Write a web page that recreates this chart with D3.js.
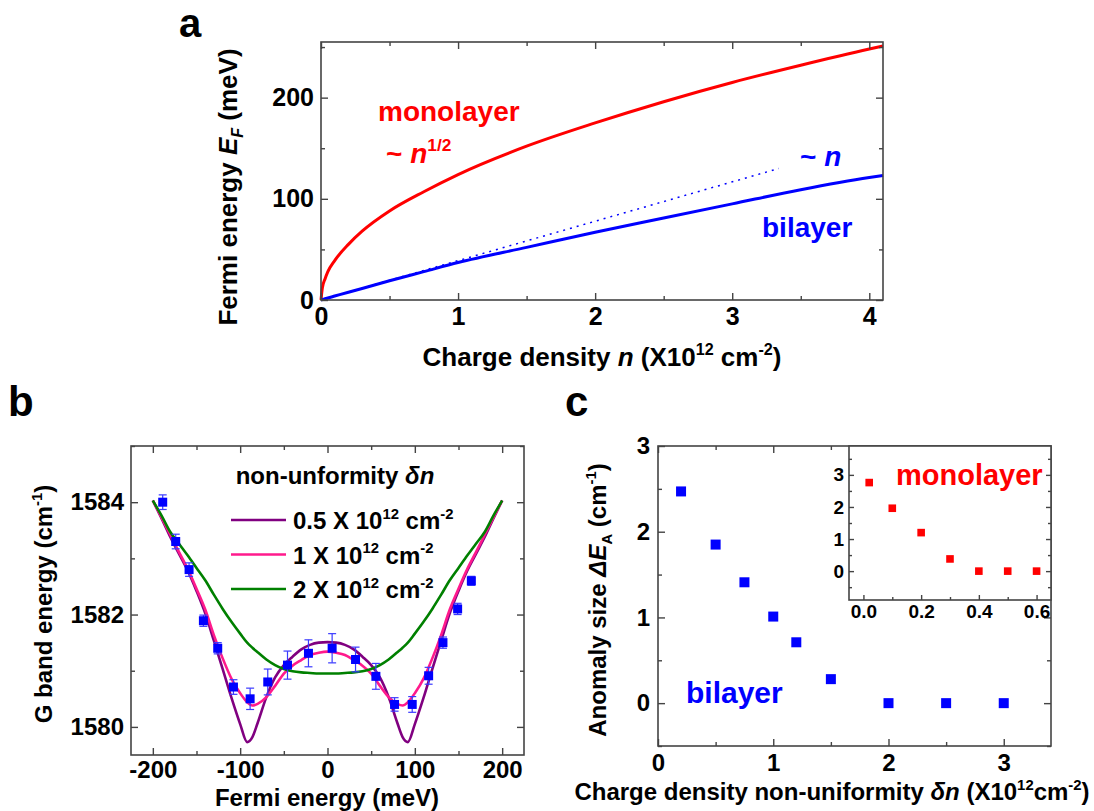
<!DOCTYPE html>
<html>
<head>
<meta charset="utf-8">
<script src="https://cdn.jsdelivr.net/npm/d3@7"></script>
<style>
  body { margin: 0; background: #fff; }
  svg { display: block; }
</style>
</head>
<body>
<svg id="fig" width="1094" height="811"></svg>
<script>
// ---- panel a : Fermi energy vs charge density
const densityA = [0, 0.01, 0.03, 0.05, 0.1, 0.2, 0.3, 0.5, 0.75, 1, 1.5, 2, 2.5, 3, 3.5, 4, 4.1];
const monolayerEF = [0, 12, 21, 28, 39, 55, 68, 88, 107, 124, 152, 175, 196, 215, 232, 248, 251];
const bilayerEF = [0, 0.4, 1.2, 2, 3.9, 7.7, 11.4, 19, 28, 37, 52, 67, 81, 95, 109, 121, 123];
const linearN = [0, 3.34];
const linearEF = [0, 130];

// ---- panel b : G band energy vs Fermi energy
const gFermi = [-188.7, -173.8, -158.5, -142.1, -125.7, -107.7, -88.6, -68.4, -45.8, -21.8, 5.3, 32.1, 55.4, 76.8, 97.0, 115.8, 132.2, 149.0, 164.7];
const gEnergy = [1584.00, 1583.30, 1582.80, 1581.89, 1581.40, 1580.71, 1580.50, 1580.80, 1581.10, 1581.31, 1581.40, 1581.20, 1580.90, 1580.40, 1580.40, 1580.91, 1581.50, 1582.10, 1582.60];
const gError = [0.13, 0.13, 0.12, 0.10, 0.10, 0.13, 0.19, 0.23, 0.25, 0.24, 0.26, 0.22, 0.23, 0.12, 0.14, 0.15, 0.10, 0.10, 0.08];

const fitFermi = [-200, -190, -180, -170, -160, -150, -140, -130, -120, -110, -100, -92, -86, -80, -70, -60, -50, -40, -30, -20, -10, 0,
  10, 20, 30, 40, 50, 60, 70, 80, 86, 92, 100, 110, 120, 130, 140, 150, 160, 170, 180, 190, 200];
const fit05 = [1584.03, 1583.71, 1583.38, 1583.08, 1582.78, 1582.42, 1582.02, 1581.53, 1581.03, 1580.52, 1580.05, 1579.73, 1579.82, 1580.07, 1580.53, 1580.88, 1581.10, 1581.25, 1581.38, 1581.46, 1581.50, 1581.51,
  1581.50, 1581.46, 1581.38, 1581.25, 1581.10, 1580.88, 1580.53, 1580.07, 1579.82, 1579.73, 1580.05, 1580.52, 1581.03, 1581.53, 1582.02, 1582.42, 1582.78, 1583.08, 1583.38, 1583.71, 1584.03];
const fit1 = [1584.03, 1583.73, 1583.42, 1583.11, 1582.81, 1582.46, 1582.09, 1581.63, 1581.22, 1580.86, 1580.60, 1580.44, 1580.38, 1580.41, 1580.53, 1580.73, 1580.95, 1581.09, 1581.19, 1581.28, 1581.32, 1581.34,
  1581.32, 1581.28, 1581.19, 1581.09, 1580.95, 1580.73, 1580.53, 1580.41, 1580.38, 1580.44, 1580.60, 1580.86, 1581.22, 1581.63, 1582.09, 1582.46, 1582.81, 1583.11, 1583.42, 1583.73, 1584.03];
const fit2 = [1584.03, 1583.76, 1583.47, 1583.26, 1583.05, 1582.83, 1582.61, 1582.35, 1582.10, 1581.87, 1581.66, 1581.50, 1581.41, 1581.33, 1581.20, 1581.10, 1581.03, 1580.99, 1580.97, 1580.96, 1580.95, 1580.95,
  1580.95, 1580.96, 1580.97, 1580.99, 1581.03, 1581.10, 1581.20, 1581.33, 1581.41, 1581.50, 1581.66, 1581.87, 1582.10, 1582.35, 1582.61, 1582.83, 1583.05, 1583.26, 1583.47, 1583.76, 1584.03];
const fitLabels = ["0.5", "1", "2"];

// ---- panel c : anomaly size vs non-uniformity
const dnBilayer = [0.2, 0.5, 0.75, 1.0, 1.2, 1.5, 2.0, 2.5, 3.0];
const dEBilayer = [2.47, 1.85, 1.41, 1.01, 0.71, 0.28, 0, 0, 0];
const dnMono = [0.02, 0.1, 0.2, 0.3, 0.4, 0.5, 0.6];
const dEMono = [2.76, 1.96, 1.2, 0.38, 0, 0, 0];

const FONT = '"Liberation Sans", Arial, Helvetica, sans-serif';
const svg = d3.select("#fig").attr("font-family", FONT);

// bold text made of pieces, some italic / super / subscript
function label(g, x, y, parts, size, o = {}) {
  const t = g.append("text")
    .attr("x", x).attr("y", y)
    .attr("font-size", size).attr("font-weight", "bold")
    .attr("fill", o.fill || "#000")
    .attr("text-anchor", o.anchor || "start");
  if (o.rotate) t.attr("transform", `rotate(-90,${x},${y})`);
  let shift = 0;
  (typeof parts === "string" ? [{ t: parts }] : parts).forEach((p) => {
    const s = p.sup ? -0.42 * size : p.sub ? 0.24 * size : 0;
    const ts = t.append("tspan").text(p.t).attr("dy", s - shift);
    if (p.sup || p.sub) ts.attr("font-size", size * 0.62);
    if (p.i) ts.attr("font-style", "italic");
    shift = s;
  });
  return t;
}

// boxed frame, ticks pointing in on all sides
function frame(g, x, y, o) {
  const [x0, x1] = x.range();
  const [yb, yt] = y.range();
  const M = o.major || 7, m = o.minor || 4;
  const put = (axis, tx, ty) => {
    const a = g.append("g").attr("transform", `translate(${tx},${ty})`).call(axis);
    a.attr("font-family", null).attr("font-size", null);
    a.select(".domain").remove();
    a.selectAll("line").attr("stroke", "#444").attr("stroke-width", 1.4);
    a.selectAll("text").attr("font-weight", "bold").attr("font-size", o.fs).attr("fill", "#000");
  };
  const fx = o.xFmt || ((d) => String(d));
  const fy = o.yFmt || ((d) => String(d));
  put(d3.axisBottom(x).tickValues(o.xMajor).tickSize(-M).tickPadding(o.xPad).tickFormat(fx), 0, yb);
  put(d3.axisBottom(x).tickValues(o.xMinor).tickSize(-m).tickFormat(""), 0, yb);
  if (!o.noTop) {
    put(d3.axisTop(x).tickValues(o.xMajor).tickSize(-M).tickFormat(""), 0, yt);
    put(d3.axisTop(x).tickValues(o.xMinor).tickSize(-m).tickFormat(""), 0, yt);
  }
  put(d3.axisLeft(y).tickValues(o.yMajor).tickSize(-M).tickPadding(o.yPad).tickFormat(fy), x0, 0);
  put(d3.axisLeft(y).tickValues(o.yMinor).tickSize(-m).tickFormat(""), x0, 0);
  put(d3.axisRight(y).tickValues(o.yMajor).tickSize(-M).tickFormat(""), x1, 0);
  put(d3.axisRight(y).tickValues(o.yMinor).tickSize(-m).tickFormat(""), x1, 0);
  g.append("rect")
    .attr("x", x0).attr("y", yt).attr("width", x1 - x0).attr("height", yb - yt)
    .attr("fill", "none").attr("stroke", "#444").attr("stroke-width", 1.6);
}

// ================= panel a
const gA = svg.append("g");
const xA = d3.scaleLinear().domain([0, 4.1]).range([321, 883]);
const yA = d3.scaleLinear().domain([0, 255]).range([300, 42]);

const lineA = (ys) => d3.line().x((d, i) => xA(densityA[i])).y((d, i) => yA(ys[i])).curve(d3.curveMonotoneX)(ys);
gA.append("path").attr("d", lineA(monolayerEF)).attr("fill", "none").attr("stroke", "#ff0000").attr("stroke-width", 3);
gA.append("path").attr("d", lineA(bilayerEF)).attr("fill", "none").attr("stroke", "#0000ff").attr("stroke-width", 3);
gA.append("path")
  .attr("d", d3.line().x((d, i) => xA(linearN[i])).y((d, i) => yA(linearEF[i]))(linearEF))
  .attr("fill", "none").attr("stroke", "#0000ff").attr("stroke-width", 1.5).attr("stroke-dasharray", "2,5");

frame(gA, xA, yA, {
  xMajor: [0, 1, 2, 3, 4], xMinor: [0.5, 1.5, 2.5, 3.5],
  yMajor: [0, 100, 200], yMinor: [50, 150, 250],
  fs: 25, xPad: 7, yPad: 7
});

label(gA, 179, 37, "a", 40);
label(gA, 602, 366, [{ t: "Charge density " }, { t: "n", i: true }, { t: " (X10" }, { t: "12", sup: true }, { t: " cm" }, { t: "-2", sup: true }, { t: ")" }], 26, { anchor: "middle" });
label(gA, 237, 187, [{ t: "Fermi energy " }, { t: "E", i: true }, { t: "F", i: true, sub: true }, { t: " (meV)" }], 26, { anchor: "middle", rotate: true });
label(gA, 378, 121, "monolayer", 28, { fill: "#ff0000" });
label(gA, 386, 163, [{ t: "~ " }, { t: "n", i: true }, { t: "1/2", sup: true }], 28, { fill: "#ff0000" });
label(gA, 800, 166, [{ t: "~ " }, { t: "n", i: true }], 28, { fill: "#0000ff" });
label(gA, 762, 237, "bilayer", 28, { fill: "#0000ff" });

// ================= panel b
const gB = svg.append("g");
const xB = d3.scaleLinear().domain([-225, 225]).range([131, 524]);
const yB = d3.scaleLinear().domain([1579.5, 1585]).range([755, 446]);
const fitColors = ["#800080", "#ff1a8c", "#008000"];
const fits = [fit05, fit1, fit2];

fits.forEach((ys, k) => {
  gB.append("path")
    .attr("d", d3.line().x((d, i) => xB(fitFermi[i])).y((d) => yB(d)).curve(d3.curveMonotoneX)(ys))
    .attr("fill", "none").attr("stroke", fitColors[k]).attr("stroke-width", 2.6);
});

const err = gB.append("g").attr("stroke", "#3a3aff").attr("stroke-width", 1.2);
gFermi.forEach((e, i) => {
  const cx = xB(e), lo = yB(gEnergy[i] - gError[i]), hi = yB(gEnergy[i] + gError[i]);
  err.append("line").attr("x1", cx).attr("x2", cx).attr("y1", lo).attr("y2", hi);
  err.append("line").attr("x1", cx - 4).attr("x2", cx + 4).attr("y1", lo).attr("y2", lo);
  err.append("line").attr("x1", cx - 4).attr("x2", cx + 4).attr("y1", hi).attr("y2", hi);
});
gB.selectAll("rect.pt").data(gFermi).enter().append("rect")
  .attr("class", "pt")
  .attr("x", (d) => xB(d) - 4.5).attr("y", (d, i) => yB(gEnergy[i]) - 4.5)
  .attr("width", 9).attr("height", 9).attr("fill", "#0000ff");

frame(gB, xB, yB, {
  xMajor: [-200, -100, 0, 100, 200], xMinor: [-150, -50, 50, 150],
  yMajor: [1580, 1582, 1584], yMinor: [1581, 1583, 1585],
  fs: 24, xPad: 6, yPad: 7
});

// legend
label(gB, 335, 484, [{ t: "non-unformity " }, { t: "δn", i: true }], 24, { anchor: "middle" });
fitLabels.forEach((v, k) => {
  const ly = 520 + k * 34.5;
  gB.append("line").attr("x1", 231).attr("x2", 286).attr("y1", ly).attr("y2", ly)
    .attr("stroke", fitColors[k]).attr("stroke-width", 2.6);
  label(gB, 293, ly + 9, [{ t: v + " X 10" }, { t: "12", sup: true }, { t: " cm" }, { t: "-2", sup: true }], 24);
});

label(gB, 8, 416, "b", 42);
label(gB, 327, 806, "Fermi energy (meV)", 24, { anchor: "middle" });
label(gB, 52, 604, [{ t: "G band energy (cm" }, { t: "-1", sup: true }, { t: ")" }], 24, { anchor: "middle", rotate: true });

// ================= panel c
const gC = svg.append("g");
const xC = d3.scaleLinear().domain([0, 3.41]).range([658, 1051]);
const yC = d3.scaleLinear().domain([-0.5, 3]).range([746, 446]);

frame(gC, xC, yC, {
  xMajor: [0, 1, 2, 3], xMinor: [0.5, 1.5, 2.5],
  yMajor: [0, 1, 2, 3], yMinor: [-0.5, 0.5, 1.5, 2.5],
  fs: 24, xPad: 8, yPad: 8
});

gC.selectAll("rect.bi").data(dnBilayer).enter().append("rect")
  .attr("class", "bi")
  .attr("x", (d) => xC(d) - 5).attr("y", (d, i) => yC(dEBilayer[i]) - 5)
  .attr("width", 10).attr("height", 10).attr("fill", "#0000ff");

label(gC, 686, 703, "bilayer", 30, { fill: "#0000ff" });

// inset
const xI = d3.scaleLinear().domain([-0.05, 0.65]).range([849, 1051]);
const yI = d3.scaleLinear().domain([-0.9, 3.9]).range([600, 446]);
gC.append("rect").attr("x", 849).attr("y", 446).attr("width", 202).attr("height", 154).attr("fill", "#fff");
frame(gC, xI, yI, {
  xMajor: [0, 0.2, 0.4, 0.6], xMinor: [0.1, 0.3, 0.5],
  yMajor: [0, 1, 2, 3], yMinor: [-0.5, 0.5, 1.5, 2.5, 3.5],
  xFmt: d3.format(".1f"), fs: 19, xPad: 5, yPad: 5, major: 5, minor: 3, noTop: true
});
gC.selectAll("rect.mono").data(dnMono).enter().append("rect")
  .attr("class", "mono")
  .attr("x", (d) => xI(d) - 3.8).attr("y", (d, i) => yI(dEMono[i]) - 3.8)
  .attr("width", 7.6).attr("height", 7.6).attr("fill", "#ff0000");
label(gC, 896, 485, "monolayer", 29, { fill: "#ff0000" });

label(gC, 565, 416, "c", 42);
label(gC, 832, 800, [{ t: "Charge density non-uniformity " }, { t: "δn", i: true }, { t: " (X10" }, { t: "12", sup: true }, { t: "cm" }, { t: "-2", sup: true }, { t: ")" }], 24, { anchor: "middle" });
label(gC, 606, 600, [{ t: "Anomaly size " }, { t: "ΔE", i: true }, { t: "A", sub: true }, { t: " (cm" }, { t: "-1", sup: true }, { t: ")" }], 24, { anchor: "middle", rotate: true });
</script>
</body>
</html>
